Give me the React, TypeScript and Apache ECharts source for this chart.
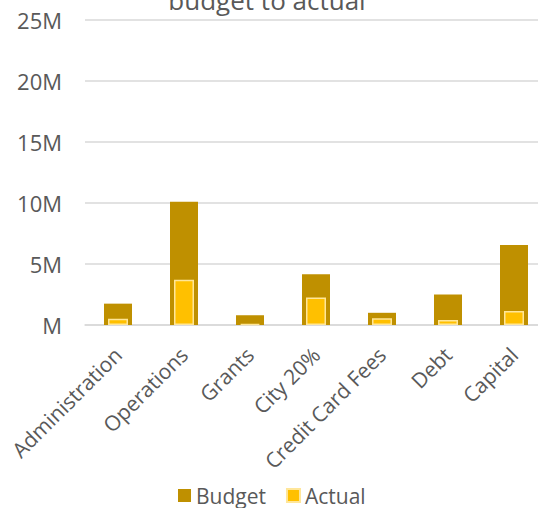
import React, { useEffect, useRef } from "react";
import * as echarts from "echarts";

const categories = ["Administration", "Operations", "Grants", "City 20%", "Credit Card Fees", "Debt", "Capital"];
const budget = [1750000, 10100000, 800000, 4150000, 1000000, 2500000, 6550000];
const actual = [520000, 3700000, 100000, 2250000, 550000, 400000, 1150000];
const yTicks = { min: 0, max: 25000000, interval: 5000000 };

const FONT = "Open Sans";
const GREY = "#595959";

export default function App() {
  const ref = useRef<HTMLDivElement>(null);
  useEffect(() => {
    if (!ref.current) return;
    const chart = echarts.init(ref.current, null, { renderer: "svg" });
    chart.setOption({
      animation: false,
      backgroundColor: "#ffffff",
      title: {
        text: "budget to actual",
        left: 262,
        top: -18,
        textAlign: "center",
        textStyle: { fontFamily: FONT, fontSize: 26, fontWeight: "normal", color: GREY },
      },
      legend: {
        top: 485,
        left: 178,
        padding: 0,
        itemWidth: 13,
        itemHeight: 13,
        itemGap: 20,
        icon: "rect",
        textStyle: { fontFamily: FONT, fontSize: 21, lineHeight: 21, color: GREY },
        data: ["Budget", "Actual"],
      },
      grid: { left: 85, right: -9, top: 20, bottom: 183, containLabel: false, outerBoundsMode: "none" },
      xAxis: [
        {
          type: "category",
          data: categories,
          axisLine: { show: true, lineStyle: { color: "#D9D9D9", width: 1.5 } },
          axisTick: { show: false },
          axisLabel: { rotate: 45, margin: 26, interval: 0, fontFamily: FONT, fontSize: 21, color: GREY },
        },
        {
          type: "category",
          data: categories,
          show: false,
        },
      ],
      yAxis: {
        type: "value",
        min: yTicks.min,
        max: yTicks.max,
        interval: yTicks.interval,
        axisLine: { show: false },
        axisTick: { show: false },
        splitLine: { lineStyle: { color: "#D9D9D9", width: 1.5 } },
        axisLabel: {
          margin: 23,
          fontFamily: FONT,
          fontSize: 22,
          color: GREY,
          formatter: (v: number) => (v === 0 ? "M" : v / 1000000 + "M"),
        },
      },
      series: [
        {
          name: "Budget",
          type: "bar",
          xAxisIndex: 0,
          data: budget,
          barWidth: 28,
          itemStyle: { color: "#BF9000" },
        },
        {
          name: "Actual",
          type: "bar",
          xAxisIndex: 1,
          data: actual,
          barWidth: 20,
          itemStyle: { color: "#FFC000", borderColor: "#FFE699", borderWidth: 1.5 },
        },
      ],
    });
    return () => chart.dispose();
  }, []);
  return <div ref={ref} style={{ position: "absolute", left: 0, top: 0, width: 538, height: 508 }} />;
}
